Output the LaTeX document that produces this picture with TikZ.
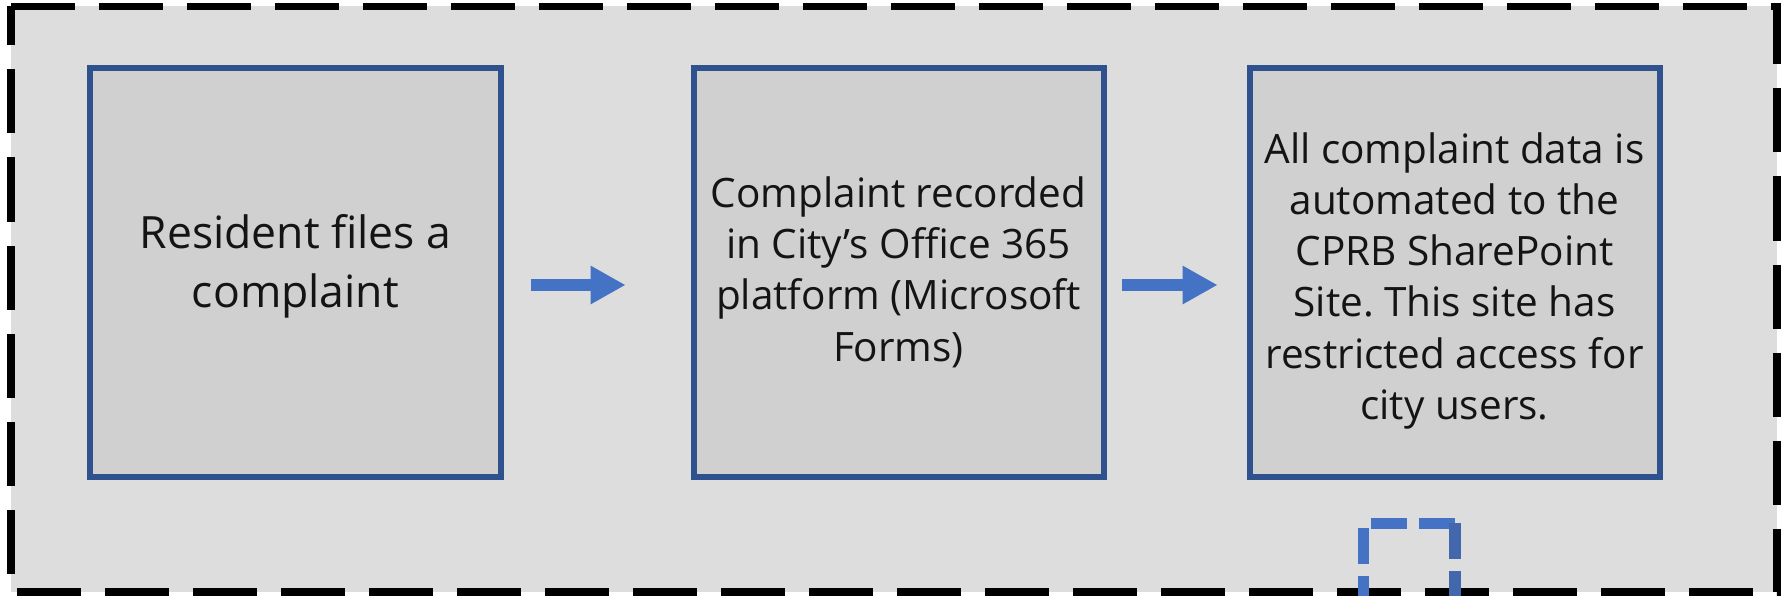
\documentclass[tikz,border=0pt]{standalone}
\usepackage{fontspec}
\setmainfont{Open Sans}
\frenchspacing
\usetikzlibrary{arrows.meta}
\definecolor{panelgray}{HTML}{DDDDDD}
\definecolor{boxgray}{HTML}{D0D0D0}
\definecolor{boxblue}{HTML}{2F528F}
\definecolor{arrowblue}{HTML}{4472C4}
\definecolor{darkdash}{HTML}{4367AC}
\definecolor{inktext}{HTML}{141414}
\tikzset{
  stepbox/.style={draw=boxblue, fill=boxgray, line width=6pt, rectangle,
    inner sep=0pt, outer sep=0pt, minimum width=410.3pt, minimum height=409pt},
  boxtext/.style={align=center, text=inktext, inner sep=0pt, anchor=base,
    execute at begin node=\frenchspacing},
  flowarrow/.style={draw=arrowblue, line width=12pt, line cap=butt,
    -{Triangle[length=35pt, width=36pt]}},
  bluedash/.style={draw=arrowblue, line width=11.5pt, line cap=butt,
    dash pattern=on 36pt off 12pt}
}
\begin{document}
\begin{tikzpicture}[x=1pt, y=-1pt]
\useasboundingbox (0,0) rectangle (1785,596);
\fill[white] (0,0) rectangle (1785,596);
% outer dashed panel
\fill[panelgray] (11,6.5) rectangle (1777,592);
\draw[black, line width=7.5pt, dash pattern=on 64pt off 24pt, line join=miter]
  (11,6.5) -- (1777,6.5) -- (1777,592) -- (11,592) -- cycle;
% boxes
\node[stepbox] (b1) at (295.5,272.5) {};
\node[stepbox] (b2) at (899.3,272.5) {};
\node[stepbox] (b3) at (1455.1,272.5) {};
% texts (base anchor = baseline of the last line)
\node[boxtext, font=\fontsize{44.5pt}{58.2pt}\selectfont] (t1) at (295.5,307)
  {Resident files a\\complaint};
\node[boxtext, font=\fontsize{40.5pt}{51.3pt}\selectfont] (t2) at (898.5,361.1)
  {Complaint recorded\\in City’s Office 365\\platform (Microsoft\\Forms)};
\node[boxtext, font=\fontsize{40.5pt}{51.2pt}\selectfont] (t3) at (1454.5,419.2)
  {All complaint data is\\automated to the\\CPRB SharePoint\\Site. This site has\\restricted access for\\city users.};
% arrows
\path ([yshift=-12.5pt]b1.east) coordinate (a1s) ([yshift=-12.5pt]b2.west) coordinate (a1e);
\path ([yshift=-12.5pt]b2.east) coordinate (a2s) ([yshift=-12.5pt]b3.west) coordinate (a2e);
\draw[flowarrow, shorten <=29.9pt, shorten >=68.5pt] (a1s) -- (a1e);
\draw[flowarrow, shorten <=17.7pt, shorten >=32.3pt] (a2s) -- (a2e);
% small blue dashed frame at the bottom
\coordinate (f1) at (1363.5,523.3);
\coordinate (f2) at (1454.8,523.3);
\coordinate (f1d) at (1363.5,620);
\coordinate (f2d) at (1454.8,620);
\draw[bluedash, dash phase=40.8pt] (f1) -- (f2);
\draw[bluedash, dash phase=43pt] (f1) -- (f1d);
\draw[bluedash, draw=darkdash, dash phase=0pt] (f2) -- (f2d);
\end{tikzpicture}
\end{document}
